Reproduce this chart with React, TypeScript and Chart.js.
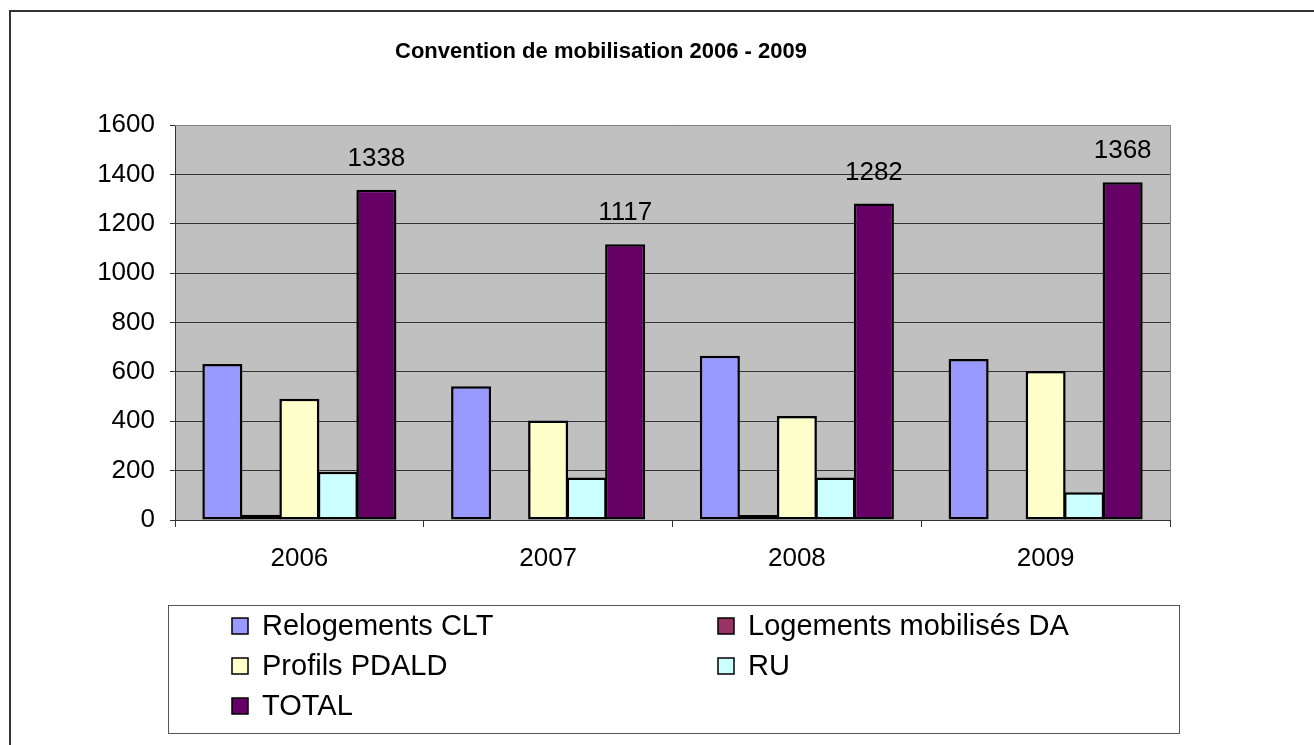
import React, { useEffect, useRef } from "react";
import { Chart, registerables } from "chart.js";

Chart.register(...registerables);

const categories = ["2006", "2007", "2008", "2009"];
const relogementsCLT = [632, 542, 665, 652];
const logementsDA = [21, 0, 20, 0];
const profilsPDALD = [491, 403, 421, 604];
const ru = [195, 172, 172, 112];
const total = [1338, 1117, 1282, 1368];
const yTicks = [0, 200, 400, 600, 800, 1000, 1200, 1400, 1600];

const seriesNames = ["Relogements CLT", "Logements mobilisés DA", "Profils PDALD", "RU", "TOTAL"];
const seriesColors = ["#9999FF", "#993366", "#FFFFCC", "#CCFFFF", "#660066"];
const titleText = "Convention de mobilisation 2006 - 2009";

const FONT = "'Liberation Sans', Arial, sans-serif";
const W = 1314;
const H = 745;

export default function App() {
  const ref = useRef<HTMLCanvasElement | null>(null);

  useEffect(() => {
    const canvas = ref.current;
    if (!canvas) return;

    const decor = {
      id: "decor",
      beforeDraw(chart: any) {
        const ctx = chart.ctx;
        const a = chart.chartArea;
        ctx.save();
        ctx.fillStyle = "#ffffff";
        ctx.fillRect(0, 0, W, H);
        // outer frame (top & left)
        ctx.strokeStyle = "#333333";
        ctx.lineWidth = 2;
        ctx.beginPath();
        ctx.moveTo(W, 11);
        ctx.lineTo(10, 11);
        ctx.lineTo(10, H);
        ctx.stroke();
        // plot background
        ctx.fillStyle = "#C0C0C0";
        ctx.fillRect(a.left, a.top, a.right - a.left, a.bottom - a.top);
        ctx.restore();
      },
      afterDraw(chart: any) {
        const ctx = chart.ctx;
        const a = chart.chartArea;
        ctx.save();
        // plot top/right border
        ctx.strokeStyle = "#808080";
        ctx.lineWidth = 1;
        ctx.beginPath();
        ctx.moveTo(a.left, a.top + 0.5);
        ctx.lineTo(a.right + 0.5, a.top + 0.5);
        ctx.lineTo(a.right + 0.5, a.bottom);
        ctx.stroke();

        // data labels on TOTAL
        const meta = chart.getDatasetMeta(4);
        ctx.fillStyle = "#000";
        ctx.font = `26px ${FONT}`;
        ctx.textAlign = "center";
        ctx.textBaseline = "middle";
        meta.data.forEach((el: any, i: number) => {
          ctx.fillText(String(total[i]), el.x, el.y - 31);
        });

        // title
        ctx.font = `bold 22px ${FONT}`;
        ctx.fillText(titleText, 601, 52);

        // legend box
        ctx.strokeStyle = "#555555";
        ctx.lineWidth = 1;
        ctx.strokeRect(168.5, 605.5, 1011, 128);
        const cols = [232, 718];
        const rows = [626, 666, 706];
        ctx.textAlign = "left";
        ctx.font = `29px ${FONT}`;
        seriesNames.forEach((name, i) => {
          const cx = cols[i % 2];
          const cy = rows[Math.floor(i / 2)];
          ctx.fillStyle = seriesColors[i];
          ctx.fillRect(cx, cy - 8, 16, 16);
          ctx.strokeStyle = "#000";
          ctx.lineWidth = 1.5;
          ctx.strokeRect(cx, cy - 8, 16, 16);
          ctx.fillStyle = "#000";
          ctx.fillText(name, cx + 30, cy + 1);
        });
        ctx.restore();
      },
    };

    const seriesData = [relogementsCLT, logementsDA, profilsPDALD, ru, total];

    const chart = new Chart(canvas, {
      type: "bar",
      data: {
        labels: categories,
        datasets: seriesNames.map((name, i) => ({
          label: name,
          data: seriesData[i],
          backgroundColor: seriesColors[i],
          borderColor: "#000000",
          borderWidth: 2.5,
          borderSkipped: false,
          categoryPercentage: 0.774,
          barPercentage: 1.04,
        })),
      },
      options: {
        responsive: false,
        animation: false,
        devicePixelRatio: 1,
        layout: { padding: { top: 125, right: 144, bottom: 0, left: 0 } },
        plugins: {
          legend: { display: false },
          title: { display: false },
          tooltip: { enabled: false },
        },
        scales: {
          x: {
            grid: {
              display: true,
              drawOnChartArea: false,
              drawTicks: true,
              tickLength: 7,
              color: "#333333",
              offset: true,
            },
            border: { display: true, color: "#333333", width: 1 },
            ticks: {
              color: "#000",
              font: { family: FONT, size: 26 },
              padding: 16,
              maxRotation: 0,
            },
            afterFit(scale: any) {
              scale.height = 225;
            },
          },
          y: {
            min: 0,
            max: 1600,
            afterBuildTicks(scale: any) {
              scale.ticks = yTicks.map((v) => ({ value: v }));
            },
            grid: {
              color: "#333333",
              lineWidth: 1,
              tickLength: 5,
              drawTicks: true,
            },
            border: { display: true, color: "#333333", width: 1 },
            ticks: {
              color: "#000",
              font: { family: FONT, size: 26 },
              padding: 15,
              callback: (v: any) => String(v),
            },
            afterFit(scale: any) {
              scale.width = 175;
            },
          },
        },
      },
      plugins: [decor],
    });

    return () => chart.destroy();
  }, []);

  return (
    <canvas
      ref={ref}
      width={W}
      height={H}
      style={{ position: "fixed", top: 0, left: 0, width: W, height: H, display: "block" }}
    />
  );
}
